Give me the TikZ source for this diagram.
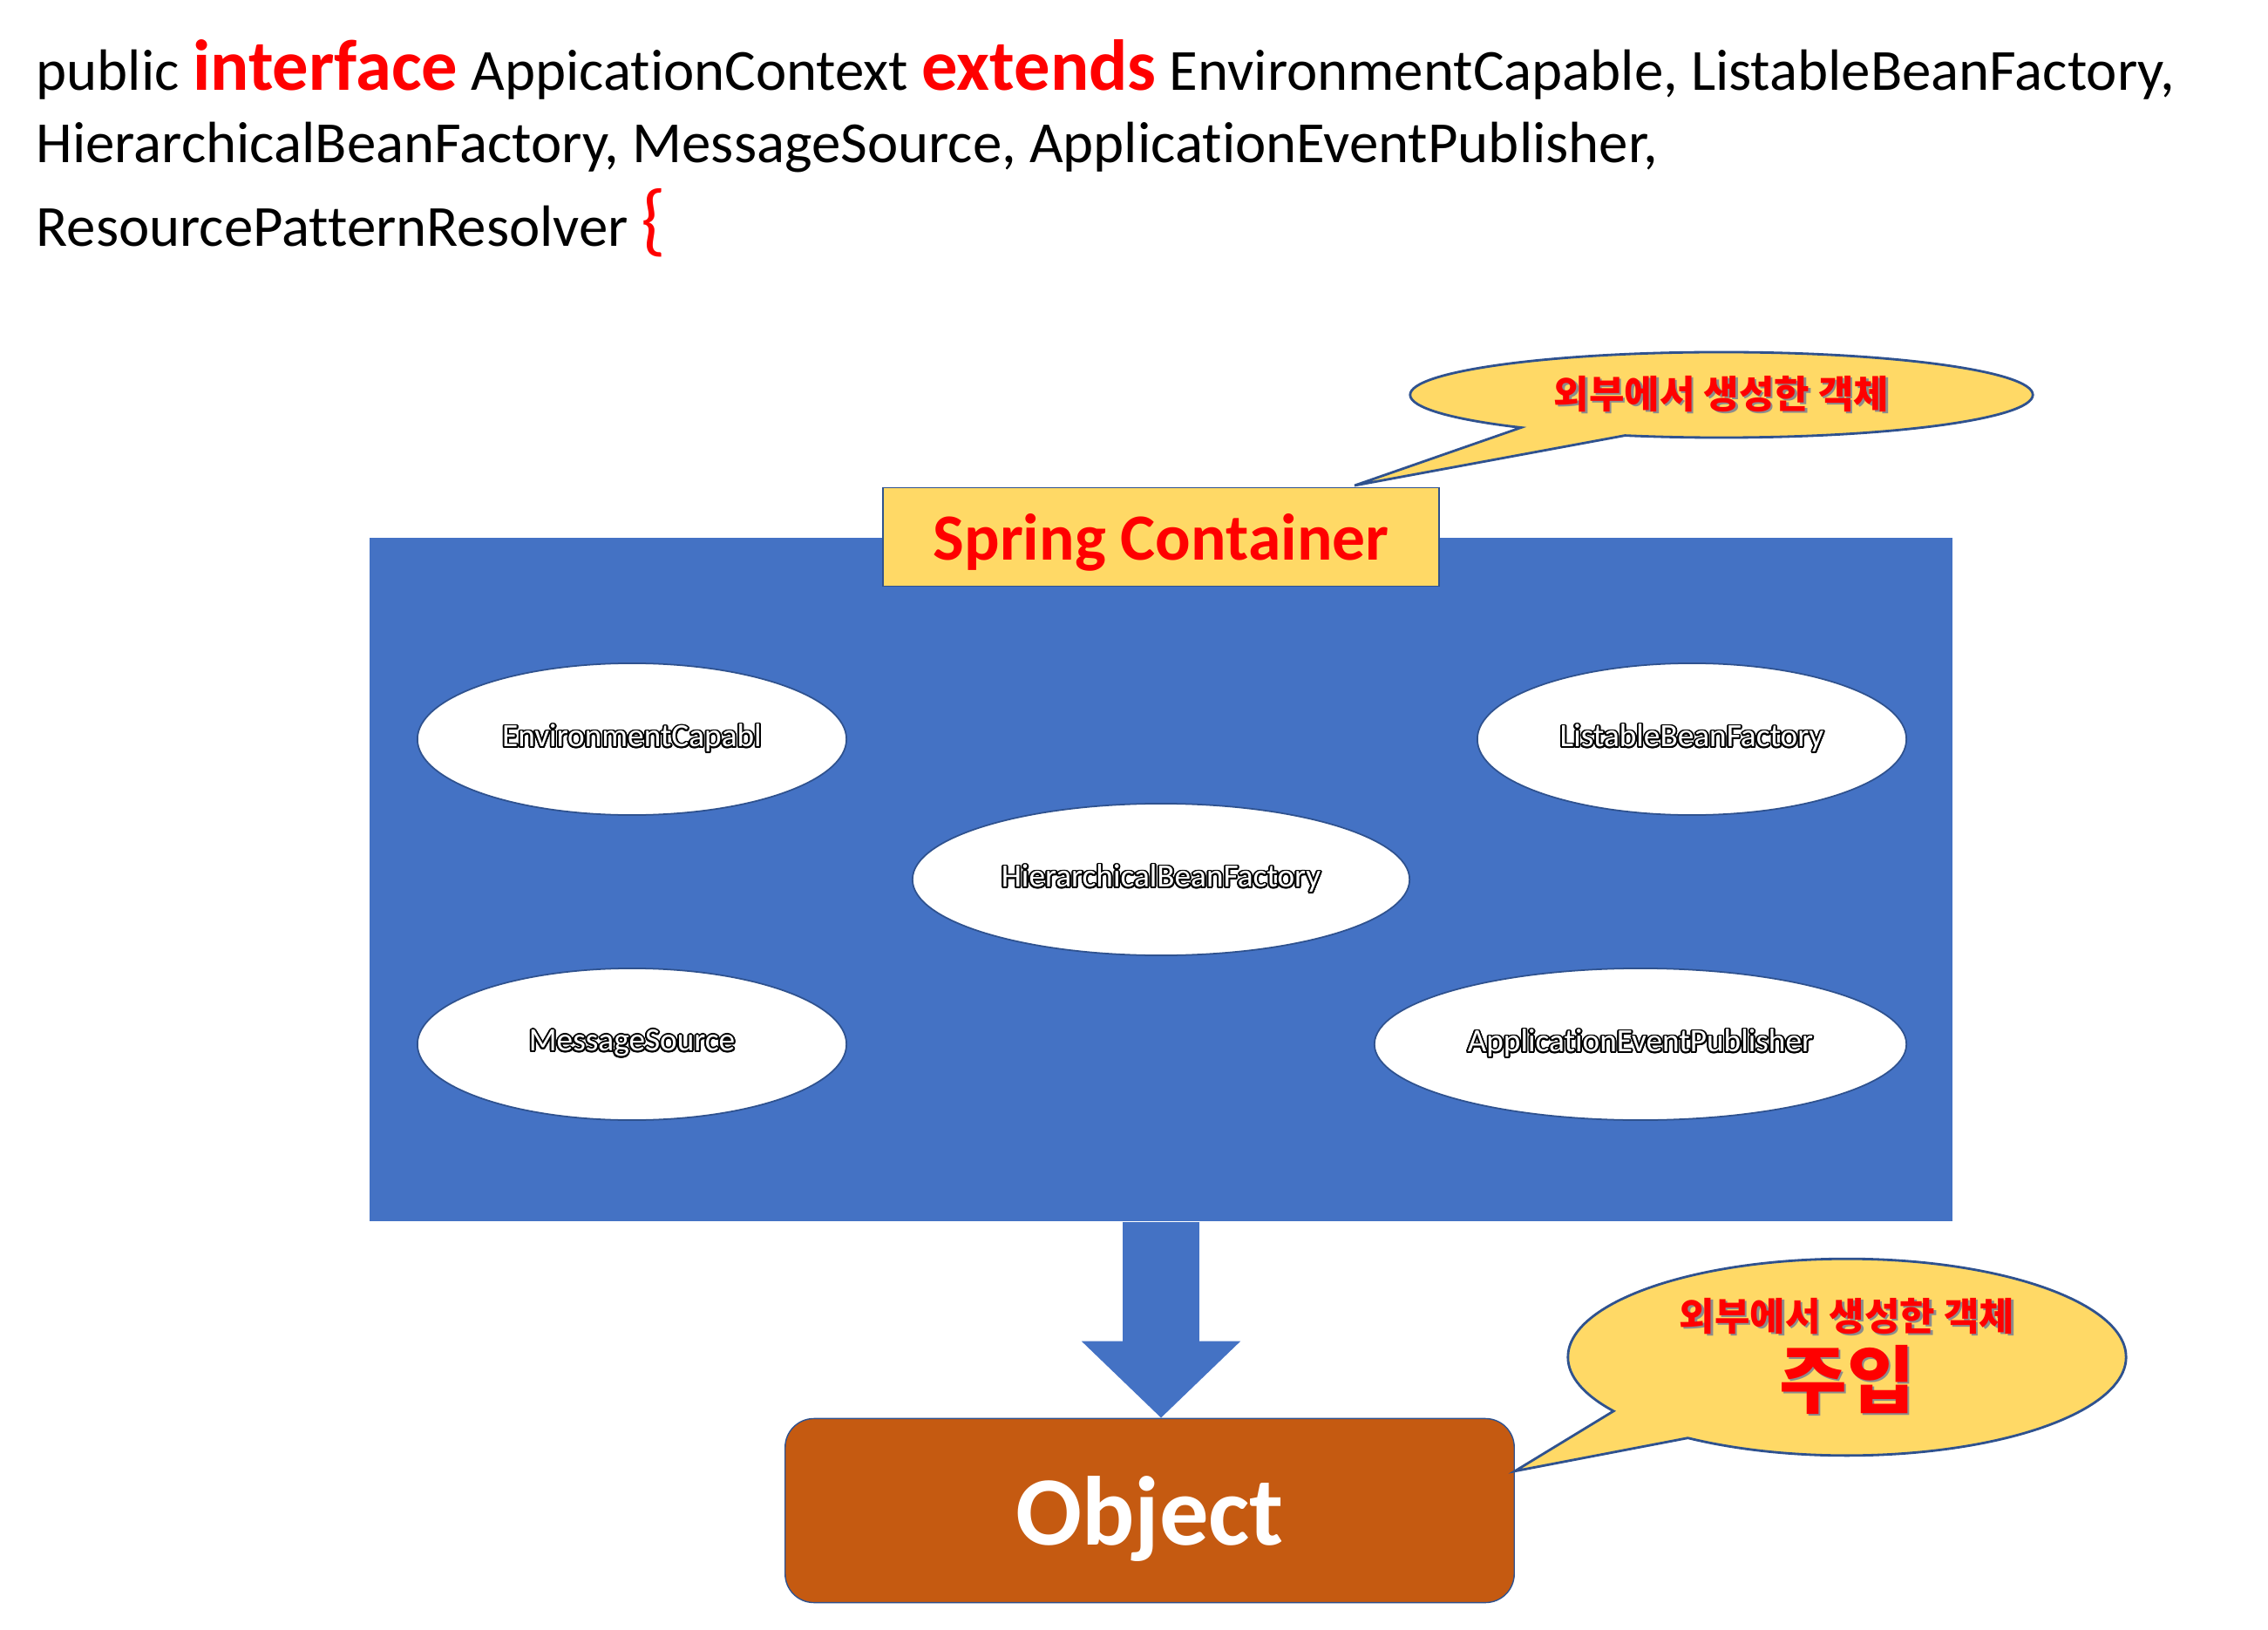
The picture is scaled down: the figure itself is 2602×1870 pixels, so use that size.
\documentclass[tikz,border=0pt]{standalone}
\usepackage{fontspec}
\setmainfont{Carlito}[Ligatures={NoCommon}]
\newfontfamily\kor{Noto Sans CJK KR}
\usepackage[copies]{contour}
\usetikzlibrary{positioning,arrows.meta,calc,shapes.geometric,shapes.callouts}
\definecolor{boxblue}{RGB}{68,114,196}
\definecolor{edgeblue}{RGB}{47,82,143}
\definecolor{noteyellow}{RGB}{255,217,102}
\definecolor{objorange}{RGB}{197,90,17}
\definecolor{keyred}{RGB}{255,0,0}
\contourlength{0.55pt}
\newcommand{\kw}[1]{{\fontsize{23.5}{28}\selectfont\bfseries\color{keyred}#1}}
\newcommand{\hollow}[1]{\contour{black}{#1}}
\newcommand{\shady}[1]{\makebox[0pt][l]{\hspace{.7pt}\raisebox{-.7pt}{\textcolor{black!45}{#1}}}#1}

\begin{document}
\begin{tikzpicture}[x=0.01cm,y=-0.01cm,
 code/.style={anchor=base west,inner sep=0pt,font=\fontsize{19}{22}\selectfont},
 bean/.style={ellipse,fill=white,draw=edgeblue,line width=.5pt,minimum height=1.74cm,text=white,font=\fontsize{10.6}{12}\selectfont},
 note/.style={ellipse callout,fill=noteyellow,draw=edgeblue,line width=.8pt,callout pointer arc=22,text=keyred,font=\kor\bfseries\fontsize{12.5}{15}\selectfont,align=center},
 inject/.style={-{Triangle[length=.88cm,width=1.77cm]},line width=.88cm,draw=boxblue}]
\useasboundingbox (0,0) rectangle (2602,1870);
% declaration text
\node[code] (l1) at (41,104) {public \kw{interface} AppicationContext \kw{extends} EnvironmentCapable, ListableBeanFactory,};
\node[code] (l2) at (41,187) {HierarchicalBeanFactory, MessageSource, ApplicationEventPublisher,};
\node[code] (l3) at (41,283) {ResourcePatternResolver {\fontsize{26}{30}\selectfont\color{keyred}\{}};
% container
\node[fill=boxblue,minimum width=18.14cm,minimum height=7.84cm,inner sep=0pt] (container) at (1332,1009) {};
\node[draw=edgeblue,fill=noteyellow,minimum width=6.38cm,minimum height=1.13cm,text=keyred,font=\bfseries\fontsize{21.5}{26}\selectfont] (spring) at (container.north) {\raisebox{-.26cm}[0pt][0pt]{Spring Container}};
\node[bean,minimum width=4.92cm] (env) at (725,848) {\hollow{EnvironmentCapabl}};
\node[bean,minimum width=4.92cm] (list) at (1941,848) {\hollow{ListableBeanFactory}};
\node[bean,minimum width=5.70cm] (hier) at (container.center) {\hollow{HierarchicalBeanFactory}};
\node[bean,minimum width=4.92cm] (msg) at (725,1198) {\hollow{MessageSource}};
\node[bean,minimum width=6.10cm] (app) at (1882,1198) {\hollow{ApplicationEventPublisher}};
% object
\node[rounded corners=.33cm,fill=objorange,draw=edgeblue,minimum width=8.36cm,minimum height=2.11cm,text=white,font=\bfseries\fontsize{32}{38}\selectfont] (object) at (1319,1733) {\raisebox{-.39cm}[0pt][0pt]{Object}};
\draw[inject] (container.south) -- (container.south |- object.north);
% notes
\coordinate (tip1) at (1554,557);
\coordinate (tip2) at ($(object.north east)+(0,61)$);
\node[note,minimum width=7.14cm,minimum height=.98cm,callout absolute pointer={(tip1)}] (note1) at (1975,453) {\shady{외부에서 생성한 객체}};
\node[note,minimum width=6.4cm,minimum height=2.12cm,callout absolute pointer={(tip2)}] (note2) at (2119,1557) {\shady{외부에서 생성한 객체}\\[2pt]{\fontsize{24}{28}\selectfont\shady{주입}}};
\end{tikzpicture}
\end{document}
